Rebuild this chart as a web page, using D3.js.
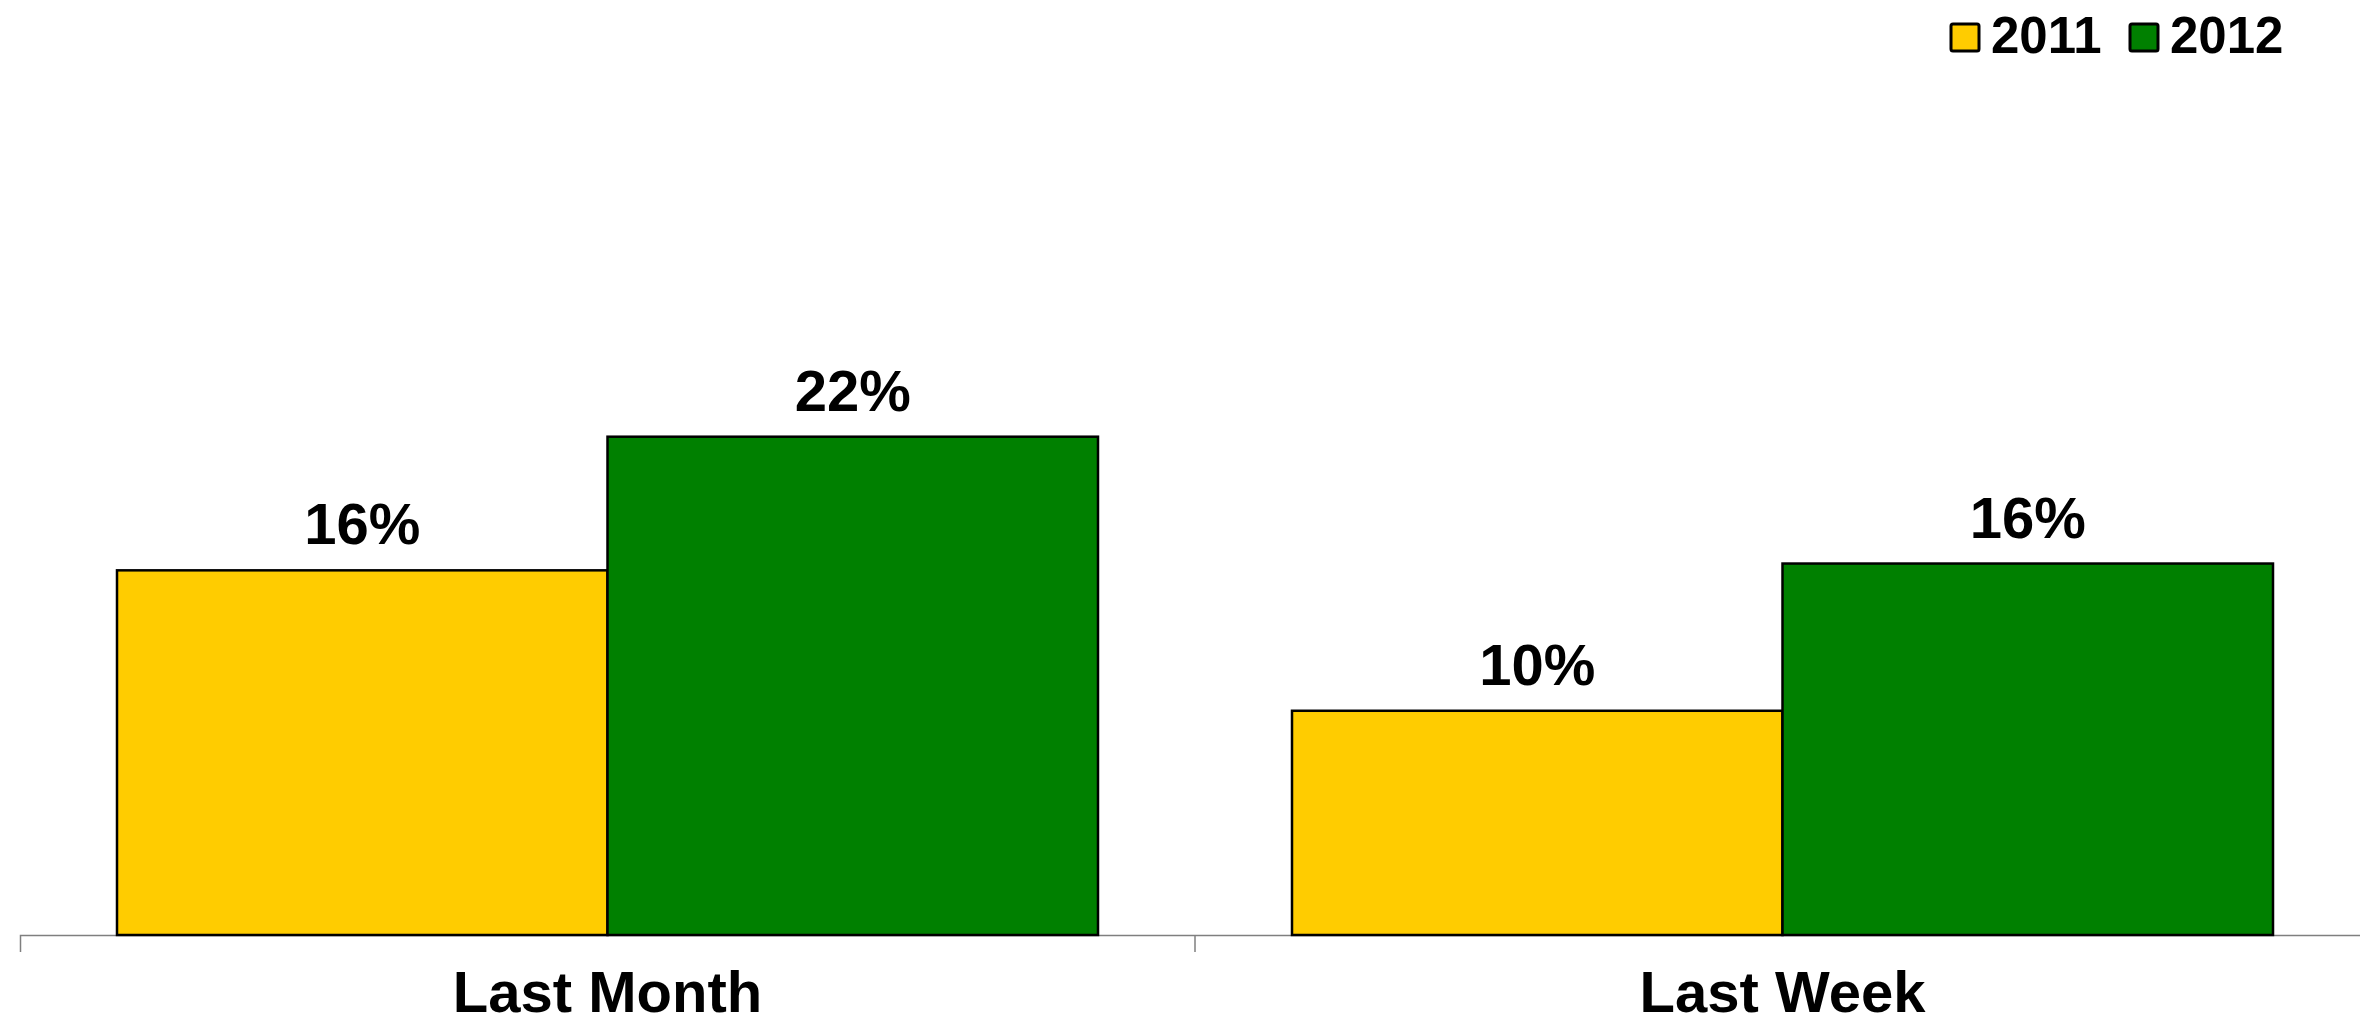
<!DOCTYPE html>
<html>
<head>
<meta charset="utf-8">
<script src="https://cdn.jsdelivr.net/npm/d3@7"></script>
<style>
  html, body { margin: 0; padding: 0; background: #fff; }
  svg { display: block; font-family: Arial, "Liberation Sans", Helvetica, sans-serif; }
</style>
</head>
<body>
<svg id="chart" width="2360" height="1025"></svg>
<script>
const categories = ["Last Month", "Last Week"];
const seriesNames = ["2011", "2012"];
const values2011 = [16.1, 9.9];
const values2012 = [22.0, 16.4];
const colors = ["#FFCC00", "#008000"];

const data = categories.map((c, i) => ({
  category: c,
  values: [
    { series: seriesNames[0], value: values2011[i] },
    { series: seriesNames[1], value: values2012[i] }
  ]
}));

const svg = d3.select("#chart");
const axisY = 935;

const x0 = d3.scaleBand().domain(categories).range([20, 2370]).paddingInner(0).paddingOuter(0);
const x1 = d3.scaleBand().domain(seriesNames).range([97, x0.bandwidth() - 97]).padding(0);
const y = d3.scaleLinear().domain([0, 35]).range([axisY, axisY - 35 * 22.65]);
const color = d3.scaleOrdinal().domain(seriesNames).range(colors);

// axis
const axis = svg.append("g")
  .attr("transform", `translate(0,${axisY})`)
  .call(d3.axisBottom(x0).tickSize(0).tickSizeOuter(17).tickPadding(36));
axis.select(".domain").attr("stroke", "#7f7f7f").attr("stroke-width", 1.5);
axis.selectAll("text")
  .attr("font-size", 58)
  .attr("font-weight", "bold")
  .attr("fill", "#000")
  .attr("font-family", "Arial, 'Liberation Sans', sans-serif");
// inner boundary ticks
axis.selectAll(".bound")
  .data(categories.slice(1))
  .enter().append("line")
  .attr("class", "bound")
  .attr("x1", d => x0(d)).attr("x2", d => x0(d))
  .attr("y1", 0).attr("y2", 17)
  .attr("stroke", "#7f7f7f").attr("stroke-width", 1.5);

// bars
const groups = svg.append("g").selectAll("g")
  .data(data).enter().append("g")
  .attr("transform", d => `translate(${x0(d.category)},0)`);

groups.selectAll("rect")
  .data(d => d.values).enter().append("rect")
  .attr("x", d => x1(d.series))
  .attr("y", d => y(d.value))
  .attr("width", x1.bandwidth())
  .attr("height", d => y(0) - y(d.value))
  .attr("fill", d => color(d.series))
  .attr("stroke", "#000")
  .attr("stroke-width", 2.5);

groups.selectAll("text.lbl")
  .data(d => d.values).enter().append("text")
  .attr("class", "lbl")
  .attr("x", d => x1(d.series) + x1.bandwidth() / 2)
  .attr("y", d => y(d.value) - 26)
  .attr("text-anchor", "middle")
  .attr("font-size", 58)
  .attr("font-weight", "bold")
  .attr("fill", "#000")
  .text(d => Math.round(d.value) + "%");

// legend
const legendX = [1951, 2130];
const legend = svg.append("g").selectAll("g")
  .data(seriesNames).enter().append("g")
  .attr("transform", (d, i) => `translate(${legendX[i]},0)`);
legend.append("rect")
  .attr("x", 0).attr("y", 24)
  .attr("width", 28).attr("height", 27)
  .attr("rx", 2)
  .attr("fill", d => color(d))
  .attr("stroke", "#000")
  .attr("stroke-width", 3);
legend.append("text")
  .attr("x", 40).attr("y", 53)
  .attr("font-size", 51)
  .attr("font-weight", "bold")
  .attr("fill", "#000")
  .text(d => d);
</script>
</body>
</html>
